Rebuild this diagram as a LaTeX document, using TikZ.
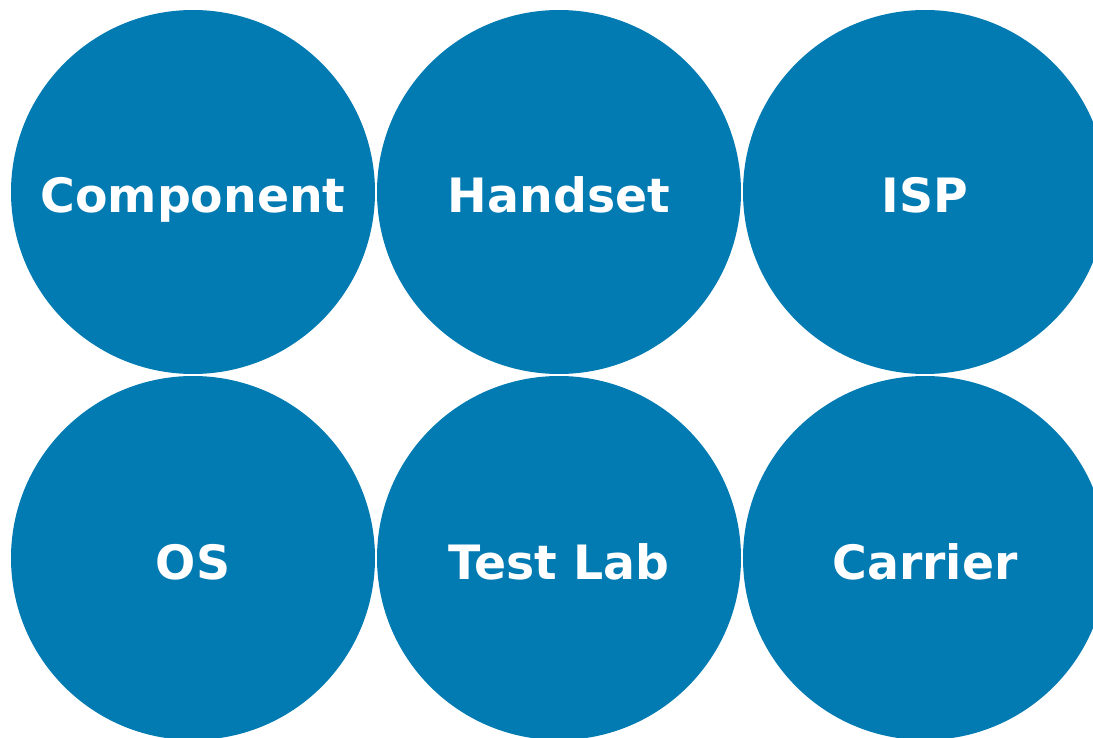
\documentclass[tikz,border=0pt]{standalone}
\usepackage{fontspec}
\setmainfont{DejaVu Sans}
\definecolor{disc}{RGB}{2,122,178}
\begin{document}
\begin{tikzpicture}[x=0.75pt,y=-0.75pt,
  bubble/.style={circle,fill=disc,draw=none,minimum size=364*0.75pt,inner sep=0pt,
    text height=31.5pt,text depth=0pt,
    text=white,font=\bfseries\fontsize{35.5}{40}\selectfont}]
\useasboundingbox (0,0) rectangle (1093,738);
\clip (0,0) rectangle (1093,738);
\node[bubble] (component) at (193,192) {Component};
\node[bubble] (handset) at (559,192) {Handset};
\node[bubble] (isp) at (925,192) {ISP};
\node[bubble] (os) at (193,558) {OS};
\node[bubble] (testlab) at (559,558) {Test Lab};
\node[bubble] (carrier) at (925,558) {Carrier};
\end{tikzpicture}
\end{document}
